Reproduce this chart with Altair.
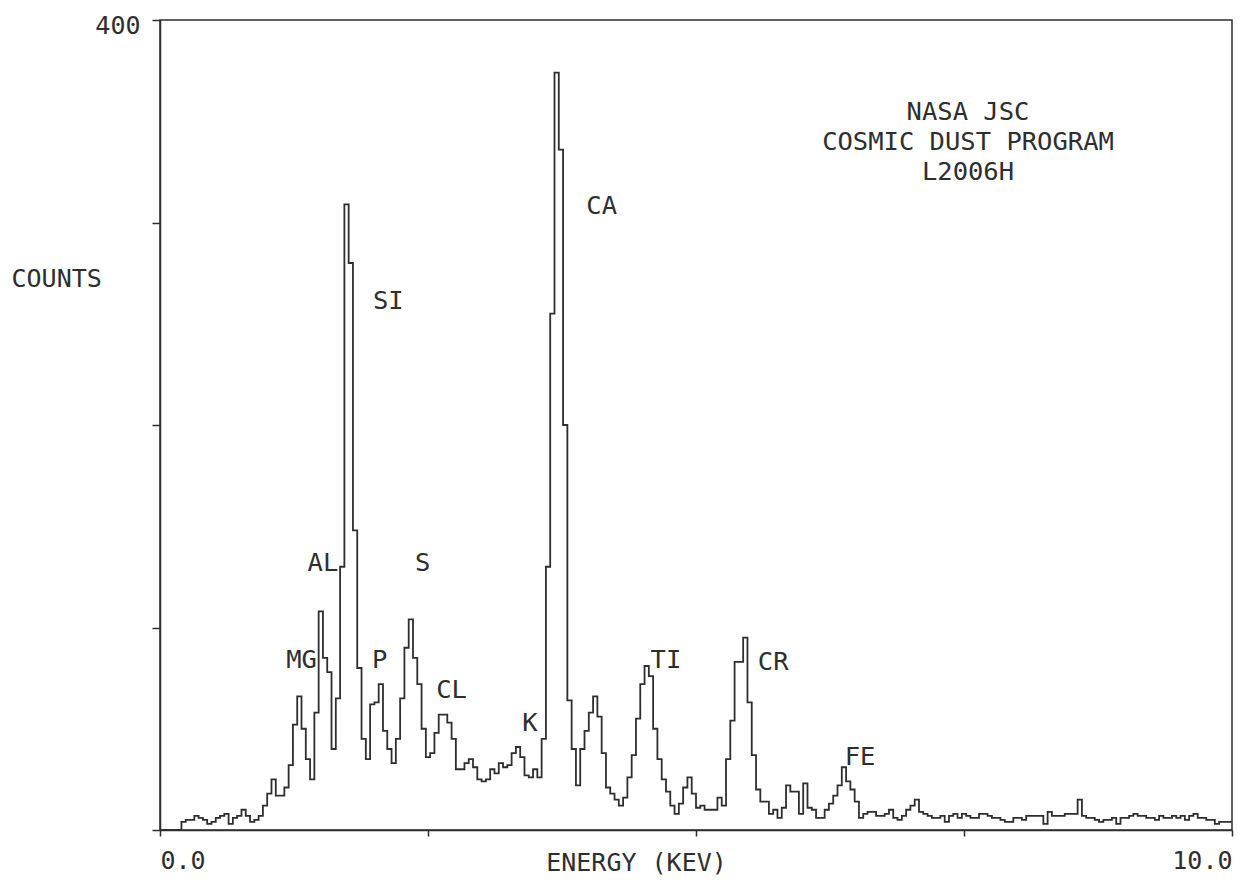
import altair as alt
import pandas as pd

# ---- data (0.04 keV channels) ----
BIN_KEV = 0.04
counts = [
    0, 0, 0, 0, 0,
    4, 5, 5, 7, 6,
    5, 3, 4, 6, 7,
    8, 3, 6, 7, 10,
    7, 4, 5, 7, 12,
    18, 25, 17, 17, 21,
    32, 52, 66, 50, 35,
    25, 58, 108, 85, 78,
    40, 65, 130, 309, 280,
    148, 80, 45, 35, 62,
    63, 72, 49, 40, 33,
    45, 65, 90, 104, 85,
    72, 50, 36, 38, 48,
    57, 57, 53, 45, 30,
    30, 33, 35, 31, 25,
    24, 25, 30, 28, 33,
    31, 32, 38, 41, 36,
    27, 26, 30, 26, 45,
    130, 255, 374, 336, 200,
    64, 40, 22, 40, 49,
    58, 66, 56, 38, 21,
    18, 15, 12, 16, 26,
    37, 55, 72, 81, 76,
    50, 35, 25, 19, 12,
    8, 13, 21, 26, 18,
    11, 12, 10, 10, 10,
    16, 12, 35, 54, 83,
    83, 95, 63, 37, 20,
    14, 14, 8, 10, 6,
    11, 22, 19, 19, 8,
    23, 11, 10, 6, 6,
    10, 13, 17, 22, 31,
    24, 20, 14, 6, 8,
    9, 9, 7, 7, 8,
    10, 6, 5, 7, 10,
    12, 15, 9, 8, 7,
    6, 6, 7, 4, 7,
    8, 6, 8, 7, 6,
    6, 8, 8, 7, 6,
    6, 5, 4, 4, 6,
    6, 5, 7, 7, 7,
    7, 3, 9, 7, 7,
    7, 8, 8, 8, 15,
    7, 6, 6, 5, 4,
    5, 5, 6, 3, 6,
    6, 7, 8, 7, 7,
    6, 6, 5, 7, 6,
    6, 7, 6, 7, 5,
    7, 8, 6, 6, 5,
    5, 3, 4, 4, 4,
]

peak_labels = ["MG", "AL", "SI", "P", "S", "CL", "K", "CA", "TI", "CR", "FE"]
label_energy = [1.32, 1.52, 2.13, 2.05, 2.45, 2.72, 3.45, 4.12, 4.72, 5.72, 6.53]
label_counts = [84, 132, 261, 84, 132, 69, 53, 308, 84, 83, 36]

title_lines = ["NASA JSC", "COSMIC DUST PROGRAM", "L2006H"]

x_tick_values = [0, 2.5, 5, 7.5, 10]
y_tick_values = [0, 100, 200, 300, 400]

# ---- build tables ----
energy_kev = [round(i * BIN_KEV, 2) for i in range(len(counts))] + [10.0]
spectrum = pd.DataFrame({"energy": energy_kev, "counts": counts + [counts[-1]]})
labels_df = pd.DataFrame({"label": peak_labels, "energy": label_energy, "counts": label_counts})
title_df = pd.DataFrame({"text": ["\n".join(title_lines)]})

FONT = "DejaVu Sans Mono"
INK = "#2e2e2e"
W, H = 1072, 810

xscale = alt.Scale(domain=[0, 10], nice=False, zero=False)
yscale = alt.Scale(domain=[0, 400], nice=False)

line = alt.Chart(spectrum).mark_line(
    interpolate="step-after", color=INK, strokeWidth=1.8
).encode(
    x=alt.X("energy:Q", scale=xscale, axis=alt.Axis(
        values=x_tick_values,
        labelExpr="datum.value == 0 ? '0.0' : (datum.value == 10 ? '10.0' : '')",
        labelFlush=True, labelOverlap=False,
        tickSize=6, labelPadding=12, grid=False,
        title="ENERGY (KEV)", titleX=476, titleY=32,
        titleAlign="center", titleBaseline="middle",
    )),
    y=alt.Y("counts:Q", scale=yscale, axis=alt.Axis(
        values=y_tick_values,
        labelExpr="datum.value == 400 ? '400' : ''",
        labelOverlap=False,
        tickSize=8, labelPadding=12, labelOffset=5, grid=False,
        title="COUNTS", titleAngle=0, titleAlign="left", titleBaseline="middle",
        titleX=-149, titleY=258,
    )),
)

peaks = alt.Chart(labels_df).mark_text(
    font=FONT, fontSize=25.5, color=INK, align="center", baseline="middle"
).encode(
    x=alt.X("energy:Q", scale=xscale),
    y=alt.Y("counts:Q", scale=yscale),
    text="label:N",
)

title_block = alt.Chart(title_df).mark_text(
    font=FONT, fontSize=25.5, color=INK, align="center", baseline="alphabetic",
    lineBreak="\n", lineHeight=30,
).encode(
    x=alt.value(808), y=alt.value(100), text="text:N"
)

chart = alt.layer(line, peaks, title_block).properties(
    width=W, height=H,
    background="white",
    autosize=alt.AutoSizeParams(type="none"),
    padding={"left": 152, "top": 12, "right": 3, "bottom": 46},
).configure_view(
    stroke=INK, strokeWidth=1.5
).configure_axis(
    domainColor=INK, domainWidth=1.5, tickColor=INK, tickWidth=1.5,
    labelFont=FONT, labelFontSize=25, labelColor=INK,
    titleFont=FONT, titleFontSize=25, titleColor=INK, titleFontWeight="normal",
)

chart.save("out.html", embed_options={"renderer": "svg", "actions": False})
